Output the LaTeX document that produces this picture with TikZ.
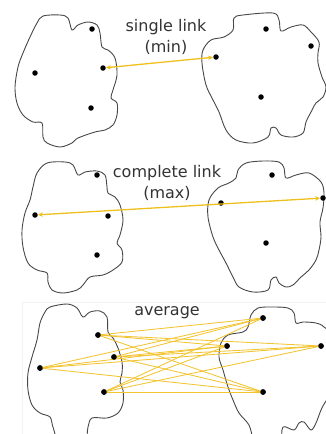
\documentclass[tikz,border=0pt]{standalone}
\usepackage{fontspec}
\setmainfont{DejaVu Sans}
\usetikzlibrary{arrows.meta}
\begin{document}
\begin{tikzpicture}[x=1pt,y=-1pt,
  cloud/.style={draw=black!72,line width=0.9pt},
  pt/.style={circle,fill=black,inner sep=0pt,minimum size=5.5pt},
  maxlink/.style={draw={rgb,255:red,238;green,192;blue,30},line width=1.3pt,{Stealth[length=5pt,width=4.5pt]}-{Stealth[length=5pt,width=4.5pt]}},
  avglink/.style={draw={rgb,255:red,242;green,196;blue,50},line width=0.85pt},
  lbl/.style={text=black!80,font=\fontsize{16}{21}\selectfont,align=center,inner sep=0pt}]
\useasboundingbox (0,0) rectangle (326,434);
\clip (0,0) rectangle (326,434);
% faint frame of bottom panel
\draw[black!5,line width=0.5pt] (22,440) -- (22,302) -- (330,302);
% ---------- top panel ----------
\draw[cloud] plot[smooth cycle,tension=0.55] coordinates {
 (43,16) (60,15) (68,18) (72,30) (78,25) (88,22) (97,25) (100,33) (102,47) (108,50) (115,58)
 (117,75) (113,90) (111,98) (117,103) (117,115) (113,125) (105,130) (95,132) (78,138) (72,143)
 (60,147) (47,143) (43,137) (42,123) (33,122) (23,115) (17,103) (15,87) (18,67) (23,53) (30,37) (37,23)};
\draw[cloud] plot[smooth cycle,tension=0.55] coordinates {
 (234,18) (243,15) (273,13) (279,20) (281,31) (291,27) (303,25) (311,32) (319,42) (318,53) (318,63)
 (322,77) (326,87) (323,97) (316,103) (311,112) (306,122) (303,133) (293,137) (281,135) (276,128)
 (271,128) (268,137) (253,143) (236,140) (226,130) (219,112) (213,100) (206,85) (202,63) (203,50)
 (211,40) (224,37) (233,30)};
\node[pt] (a1) at (92,29) {};
\node[pt] (a2) at (103,68) {};
\node[pt] (a3) at (35,73) {};
\node[pt] (a4) at (91,108) {};
\node[pt] (b1) at (266,29) {};
\node[pt] (b2) at (311,46) {};
\node[pt] (b3) at (216,57) {};
\node[pt] (b4) at (261,97) {};
\draw[maxlink] (a2) -- (b3);
\node[lbl] (t1) at (166,37) {single link\\(min)};
% ---------- middle panel ----------
\draw[cloud] plot[smooth cycle,tension=0.55] coordinates {
 (47,163) (65,162) (73,165) (78,175) (85,172) (97,171) (105,175) (107,187) (108,193) (115,197)
 (120,205) (123,220) (120,235) (117,243) (122,250) (122,262) (113,270) (103,275) (90,277) (83,285)
 (77,290) (63,293) (52,290) (48,282) (47,273) (37,270) (28,263) (23,247) (22,230) (25,213) (30,200)
 (33,187) (37,173)};
\draw[cloud] plot[smooth cycle,tension=0.55] coordinates {
 (238,170) (246,163) (263,161) (279,162) (284,168) (286,178) (296,175) (309,173) (321,182) (324,193)
 (323,208) (320,222) (321,237) (319,250) (316,260) (309,270) (301,277) (293,285) (286,287) (279,283)
 (276,277) (271,280) (268,290) (253,292) (239,287) (233,277) (226,263) (219,250) (213,237) (208,217)
 (209,200) (218,188) (229,183) (236,178)};
\node[pt] (c1) at (97,175) {};
\node[pt] (c2) at (35,215) {};
\node[pt] (c3) at (108,216) {};
\node[pt] (c4) at (97,255) {};
\node[pt] (d1) at (272,175) {};
\node[pt] (d2) at (221,203) {};
\node[pt] (d3) at (323,198) {};
\node[pt] (d4) at (266,243) {};
\draw[maxlink] (c2) -- (d3);
\node[lbl] (t2) at (167,183) {complete link\\(max)};
% ---------- bottom panel ----------
\draw[cloud] plot[smooth cycle,tension=0.55] coordinates {
 (50,307) (67,304) (77,308) (83,317) (90,312) (100,311) (107,317) (108,332) (113,338) (118,348)
 (122,362) (122,373) (120,382) (123,390) (123,403) (118,413) (107,418) (92,418) (88,427) (84,442)
 (60,442) (53,427) (50,417) (40,413) (32,405) (28,390) (28,373) (32,357) (37,340) (40,323) (45,312)};
\draw[cloud] plot[smooth cycle,tension=0.55] coordinates {
 (251,315) (258,308) (273,307) (288,308) (294,313) (296,323) (303,322) (316,323) (324,327) (334,340)
 (334,392) (326,401) (321,410) (316,423) (311,430) (304,422) (299,423) (294,430) (283,427) (279,442)
 (256,442) (249,425) (239,413) (233,400) (228,387) (223,370) (219,357) (221,343) (228,335) (243,332)
 (248,327)};
\node[pt] (e1) at (98,335) {};
\node[pt] (e2) at (114,357) {};
\node[pt] (e3) at (40,368) {};
\node[pt] (e4) at (104,392) {};
\node[pt] (f1) at (263,318) {};
\node[pt] (f2) at (227,346) {};
\node[pt] (f3) at (321,346) {};
\node[pt] (f4) at (263,392) {};
\foreach \l in {e1,e2,e3,e4}{\foreach \r in {f1,f2,f3,f4}{\draw[avglink] (\l.center) -- (\r.center);}}
\foreach \n in {e1,e2,e3,e4,f1,f2,f3,f4}{\fill (\n) circle (2.75pt);}
\node[lbl] (t3) at (167,313) {average};
\end{tikzpicture}
\end{document}
